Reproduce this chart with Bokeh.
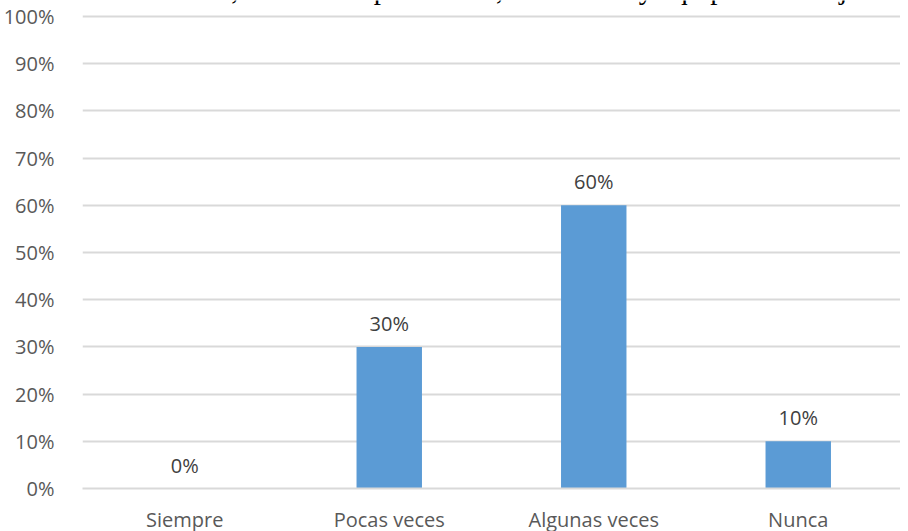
from bokeh.plotting import figure
from bokeh.models import ColumnDataSource, Label, NumeralTickFormatter, FixedTicker, Range1d
from bokeh.core.properties import value
from bokeh.embed import file_html
from bokeh.resources import INLINE

categories = ["Siempre", "Pocas veces", "Algunas veces", "Nunca"]
values = [0.0, 0.30, 0.60, 0.10]
value_labels = ["0%", "30%", "60%", "10%"]
y_ticks = [0.0, 0.1, 0.2, 0.3, 0.4, 0.5, 0.6, 0.7, 0.8, 0.9, 1.0]
title_text = "Prenda de vestir, accesorios personales, mobiliario y equipo de trabajo de la oficina"

FONT = "Open Sans"
H = 535
AXIS_PX = 472.0          # pixels for 0..100%
TOP_PAD_PX = 16.0        # room above the 100% line (inside the frame)
TITLE_RAISE_PX = 28.0    # title baseline position above the 100% line

src = ColumnDataSource(dict(cat=categories, val=values, lab=value_labels))

p = figure(x_range=categories, width=900, height=H, output_backend="svg",
           toolbar_location=None, min_border_left=77, min_border_right=0,
           min_border_top=0, min_border_bottom=20)
p.y_range = Range1d(0, 1.0 + TOP_PAD_PX / AXIS_PX)
p.outline_line_color = None
p.background_fill_color = "white"
p.border_fill_color = "white"

p.vbar(x="cat", top="val", width=0.32, source=src, color="#5B9BD5", line_color=None)

p.text(x="cat", y="val", text="lab", source=src, text_align="center",
       text_baseline="bottom", y_offset=-10, text_font=value(FONT),
       text_font_size="20px", text_color="#404040")

p.yaxis.ticker = FixedTicker(ticks=y_ticks)
p.yaxis.formatter = NumeralTickFormatter(format="0%")
p.yaxis.axis_line_color = None
p.yaxis.major_tick_line_color = None
p.yaxis.minor_tick_line_color = None
p.yaxis.major_label_standoff = 22
p.yaxis.major_label_text_font = FONT
p.yaxis.major_label_text_font_size = "20px"
p.yaxis.major_label_text_color = "#595959"

p.xaxis.axis_line_color = "#d9d9d9"
p.xaxis.axis_line_width = 2
p.xaxis.major_tick_line_color = None
p.xaxis.minor_tick_line_color = None
p.xaxis.major_label_standoff = 11
p.xaxis.major_label_text_font = FONT
p.xaxis.major_label_text_font_size = "20px"
p.xaxis.major_label_text_color = "#595959"

p.xgrid.grid_line_color = None
p.ygrid.grid_line_color = "#d9d9d9"
p.ygrid.grid_line_width = 2

# Title sits mostly above the visible area; only its lowest part shows
p.add_layout(Label(x=-37, y=1.0 + TITLE_RAISE_PX / AXIS_PX, x_units="screen", y_units="data",
                   text=title_text, text_font="Liberation Serif",
                   text_font_size="29px", text_baseline="alphabetic",
                   text_align="left", text_color="black"))

html = file_html(p, INLINE)
open("out.html", "w").write(html)
